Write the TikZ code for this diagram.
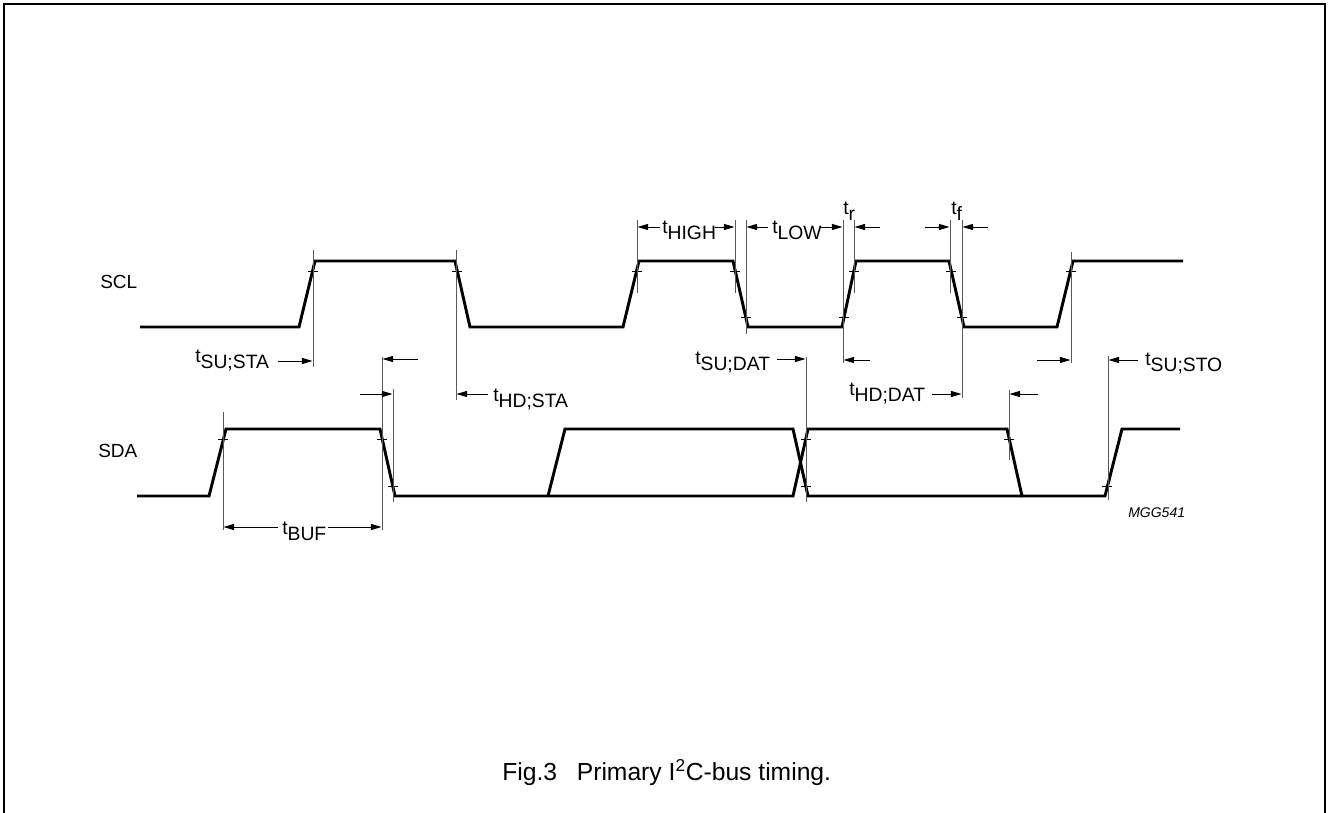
\documentclass[tikz,border=0pt]{standalone}
\usepackage{fontspec}
\setmainfont{Liberation Sans}
\usetikzlibrary{arrows.meta}
\newcommand\tsub[1]{t\raisebox{-4.5pt}{#1}}
\begin{document}
\begin{tikzpicture}[x=0.75pt,y=-0.75pt,
  wave/.style={line width=2.2pt, line join=miter},
  vline/.style={line width=0.6pt, black!65},
  tickmark/.style={line width=0.5pt},
  dimarrow/.style={line width=0.7pt, -{Triangle[length=8pt,width=4.6pt]}},
  lab/.style={anchor=base west, inner sep=0pt, font=\fontsize{14.5pt}{16pt}\selectfont},
  sig/.style={anchor=base west, inner sep=0pt, font=\fontsize{14.25pt}{16pt}\selectfont},
  frame/.style={line width=1.1pt}]
\useasboundingbox (0,0) rectangle (1329,813);
% frame
\draw[frame] (4,813) -- (4,4) -- (1325,4) -- (1325,813);

% signal names
\node[sig] (scl) at (100,289) {SCL};
\node[sig] (sda) at (98,457) {SDA};

% SCL waveform
\draw[wave] (140,327) -- (299,327) -- (315,261) -- (455,261) -- (470,327)
  -- (623,327) -- (639,261) -- (733,261) -- (748,327) -- (842,327)
  -- (856,261) -- (949,261) -- (964,327) -- (1057,327) -- (1073,261) -- (1183,261);

% SDA waveform
\draw[wave] (137,496) -- (209,496) -- (226,429) -- (380,429) -- (395,496)
  -- (793,496) -- (808,429) -- (1007,429) -- (1022,496) -- (1105,496)
  -- (1122,429) -- (1180,429);
\draw[wave] (548,496) -- (565,429) -- (793,429) -- (808,496) -- (1022,496);

% ticks
\foreach \x/\y in {313/271,457/271,637/271,735/271,746/317,844/317,854/271,951/271,962/317,1071/271,
                   223/439,382/439,393/486,806/439,806/486,1009/439,1107/486}
  \draw[tickmark] (\x-5,\y) -- (\x+5,\y);

% vertical reference lines
\foreach \x/\a/\b in {313/250/367, 456/250/400, 637/220/293, 735/220/293, 746/220/334,
                      843/220/363, 854/220/293, 950/220/293, 962/220/398, 1071/252/363,
                      223/412/530, 382/357/530, 393/389/502, 806/357/502, 1009/390/460, 1108/356/500}
  \draw[vline] (\x,\a) -- (\x,\b);

% dimension arrows
\draw[dimarrow] (278,361) -- (312.5,361);
\draw[dimarrow] (418,359) -- (382.5,359);
\draw[dimarrow] (360,394) -- (392.5,394);
\draw[dimarrow] (488,394) -- (456.5,394);
\draw[dimarrow] (278,527) -- (223.5,527);
\draw[dimarrow] (328,527) -- (381.5,527);
\draw[dimarrow] (660,227) -- (637.5,227);
\draw[dimarrow] (715,227) -- (734.5,227);
\draw[dimarrow] (768,227) -- (746.5,227);
\draw[dimarrow] (820,227) -- (842.5,227);
\draw[dimarrow] (880,227) -- (854.5,227);
\draw[dimarrow] (925,227) -- (949.5,227);
\draw[dimarrow] (988,227) -- (962.5,227);
\draw[dimarrow] (777,359) -- (805.5,359);
\draw[dimarrow] (870,360) -- (843.5,360);
\draw[dimarrow] (932,394) -- (961.5,394);
\draw[dimarrow] (1038,394) -- (1009.5,394);
\draw[dimarrow] (1037,360) -- (1070.5,360);
\draw[dimarrow] (1138,360) -- (1108.5,360);

% labels
\node[lab] (lsusta) at (195,362) {\tsub{SU;STA}};
\node[lab] (lhdsta) at (493,401) {\tsub{HD;STA}};
\node[lab] (lhigh) at (662,234) {\tsub{HIGH}};
\node[lab] (llow) at (772,234) {\tsub{LOW}};
\node[lab] (ltr) at (843,215) {\tsub{r}};
\node[lab] (ltf) at (951,215) {\tsub{f}};
\node[lab] (lsudat) at (695,364) {\tsub{SU;DAT}};
\node[lab] (lhddat) at (849,395) {\tsub{HD;DAT}};
\node[lab] (lsusto) at (1145,365) {\tsub{SU;STO}};
\node[lab] (lbuf) at (282,534) {\tsub{BUF}};

% figure id
\node[anchor=base west, inner sep=0pt, font=\fontsize{10.5pt}{12pt}\selectfont\itshape] (id) at (1128,517) {MGG541};

% caption
\node[anchor=base west, inner sep=0pt, font=\fontsize{18.5pt}{22pt}\selectfont] (cap) at (502,780)
  {Fig.3\hspace{0.8em}Primary I\textsuperscript{2}C-bus timing.};
\end{tikzpicture}
\end{document}
